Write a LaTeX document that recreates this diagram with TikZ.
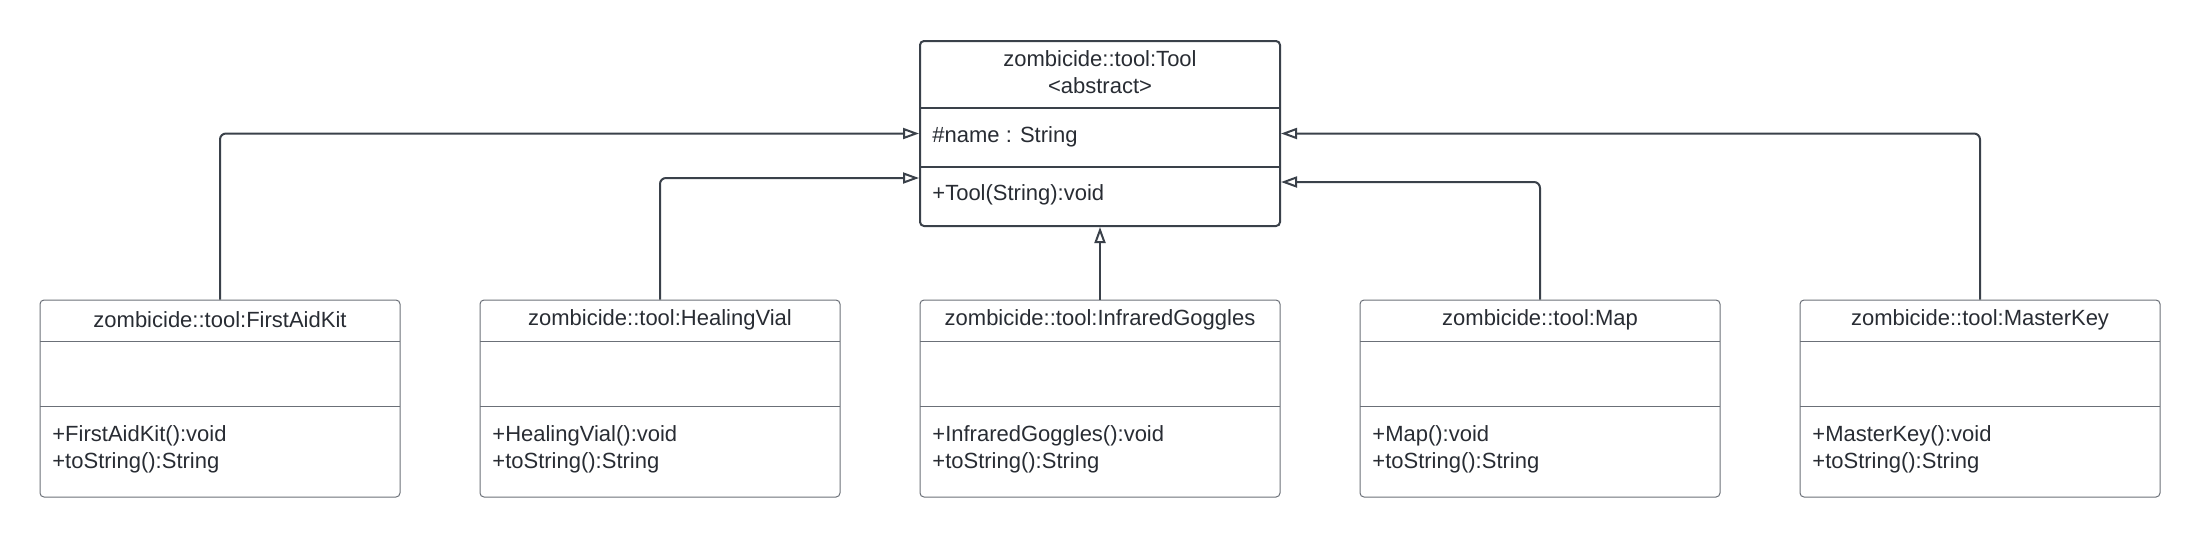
\documentclass[tikz,border=0pt]{standalone}
\usepackage{fontspec}
\setmainfont{Liberation Sans}
\usetikzlibrary{arrows.meta}
\definecolor{umlline}{HTML}{3A414A}
\definecolor{umlbox}{HTML}{6B7078}
\definecolor{umltext}{HTML}{282C33}

\begin{document}
\begin{tikzpicture}[x=0.5pt, y=-0.5pt,
  every node/.style={font=\fontsize{11}{13.5}\selectfont, text=umltext},
  toolbox/.style={draw=umlline, line width=1pt, rounded corners=2pt,
    minimum width=180pt, minimum height=92.5pt},
  subbox/.style={draw=umlbox, line width=0.5pt, rounded corners=2pt,
    minimum width=180pt, minimum height=98.5pt},
  member/.style={anchor=west, inner sep=0pt},
  inherit/.style={draw=umlline, line width=1pt, rounded corners=3pt,
    -{Triangle[open, length=8pt, width=5.5pt]}}]

  \useasboundingbox (0,0) rectangle (2200,538);

  % The abstract base class.
  \node[toolbox] (tool) at (1100,133.5) {};
  \node[align=center] (tool-title) at (1100,72.5)
    {zombicide::tool:Tool\\<abstract>};
  \draw[umlline, line width=1pt] (920,108) -- (1280,108);
  \draw[umlline, line width=1pt] (920,167) -- (1280,167);
  \node[member] (tool-attr) at (932,137) {\#name : String};
  \node[member] (tool-ctor) at (932,195) {+Tool(String):void};

  % The five concrete tools.
  \foreach \cx/\nm/\cls in {220/fak/FirstAidKit, 660/hv/HealingVial,
      1100/ig/InfraredGoggles, 1540/map/Map, 1980/mk/MasterKey} {
    \node[subbox] (\nm) at (\cx,398.5) {};
    \node (\nm-title) at (\cx,320) {zombicide::tool:\cls};
    \draw[umlbox, line width=0.5pt] ({\cx-180},341) -- ({\cx+180},341);
    \draw[umlbox, line width=0.5pt] ({\cx-180},406) -- ({\cx+180},406);
    \node[member] (\nm-ctor) at ({\cx-168},436) {+\cls():void};
    \node[member] (\nm-str) at ({\cx-168},463) {+toString():String};
  }

  % Inheritance arrows.
  \draw[inherit] (fak.north) |- (tool.west);
  \draw[inherit] (hv.north) |- ([yshift=-22.25pt]tool.west);
  \draw[inherit] (ig.north) -- (tool.south);
  \draw[inherit] (map.north) |- ([yshift=-24.25pt]tool.east);
  \draw[inherit] (mk.north) |- (tool.east);
\end{tikzpicture}
\end{document}
